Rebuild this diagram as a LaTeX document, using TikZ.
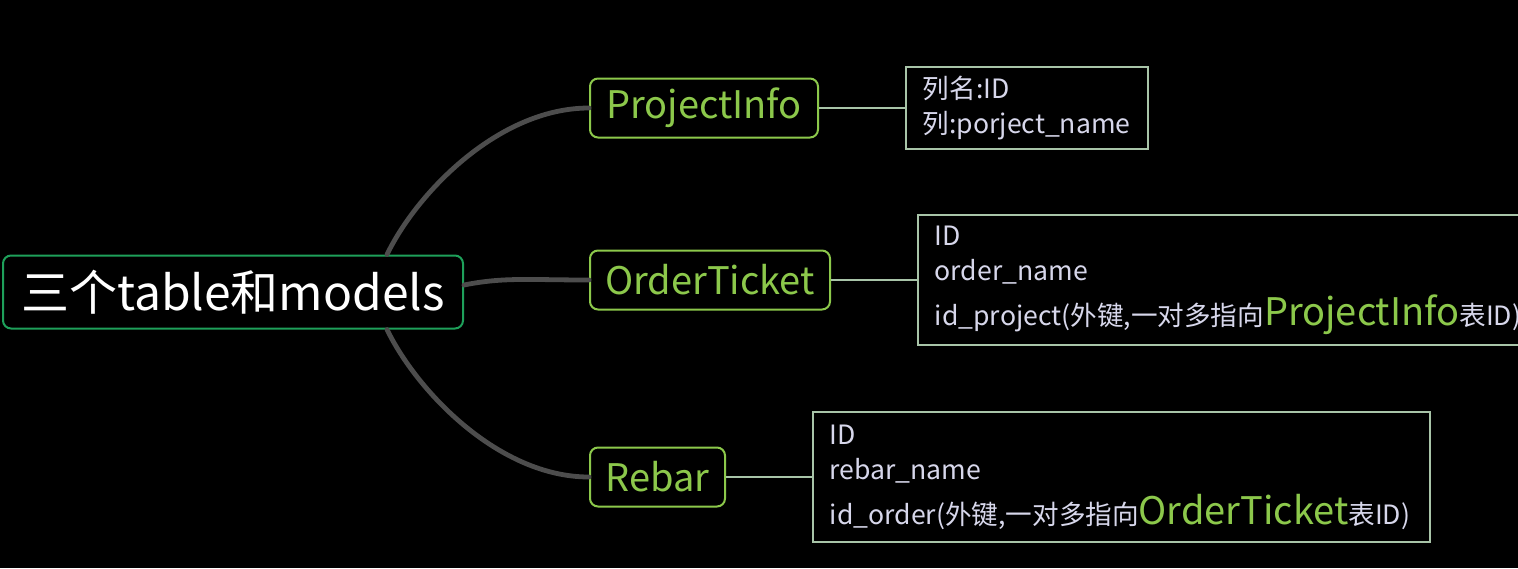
\documentclass[tikz,border=0pt]{standalone}
\usepackage{fontspec}
\setmainfont{Noto Sans CJK SC}
\usetikzlibrary{positioning}
\definecolor{RootGreen}{RGB}{30,160,90}
\definecolor{LeafGreen}{RGB}{140,200,75}
\definecolor{FieldGray}{RGB}{168,196,168}
\definecolor{FieldText}{RGB}{215,215,235}
\definecolor{BranchGray}{RGB}{77,77,77}
\tikzset{
  rootbox/.style={draw=RootGreen,line width=1pt,rounded corners=4pt,text=white,
    minimum width=230pt,minimum height=36.5pt,font=\fontsize{24}{28}\selectfont},
  tablebox/.style={draw=LeafGreen,line width=1pt,rounded corners=4pt,text=LeafGreen,
    minimum height=29.5pt,anchor=west,font=\fontsize{19}{22}\selectfont},
  fieldbox/.style={draw=FieldGray,line width=0.8pt,text=FieldText,align=left,
    inner xsep=8.5pt,font=\fontsize{13.3}{17.5}\selectfont},
  branch/.style={draw=BranchGray,line width=2.4pt,line cap=round},
  fieldline/.style={draw=FieldGray,line width=0.8pt},
}
\newcommand{\bigname}[1]{{\color{LeafGreen}\fontsize{19}{17.5}\selectfont #1}}

\begin{document}
\begin{tikzpicture}[x=0.5pt,y=-0.5pt]
\fill[black] (0,0) rectangle (1518,568);
\useasboundingbox (0,0) rectangle (1518,568);
% root and tables
\node[rootbox] (root) at (233,292) {三个table和models};
\node[tablebox,minimum width=114pt] (proj) at (589,108) {ProjectInfo};
\node[tablebox,minimum width=120pt] (order) at (589,280) {OrderTicket};
\node[tablebox,minimum width=67.5pt] (rebar) at (589,477) {Rebar};
% columns
\node[fieldbox,text width=104pt,minimum height=41pt,right=43pt of proj] (projf)
  {列名:ID\\列:porject\_name};
\node[fieldbox,text width=290.5pt,minimum height=65pt,right=43pt of order] (orderf)
  {ID\\order\_name\\[5pt]id\_project(外键,一对多指向\bigname{ProjectInfo}表ID)};
\node[fieldbox,text width=291.5pt,minimum height=65pt,right=43pt of rebar] (rebarf)
  {ID\\rebar\_name\\[5pt]id\_order(外键,一对多指向\bigname{OrderTicket}表ID)};
% branches
\draw[branch] ([xshift=77pt]root.north) .. controls +(30,-62) and +(-90,0) .. (proj.west);
\draw[branch] ([yshift=3.5pt]root.east) .. controls +(40,-8) and +(-60,0) .. (order.west);
\draw[branch] ([xshift=77pt]root.south) .. controls +(30,62) and +(-90,0) .. (rebar.west);
\draw[fieldline] (proj.east) -- (projf.west);
\draw[fieldline] (order.east) -- (orderf.west);
\draw[fieldline] (rebar.east) -- (rebarf.west);
\end{tikzpicture}
\end{document}
